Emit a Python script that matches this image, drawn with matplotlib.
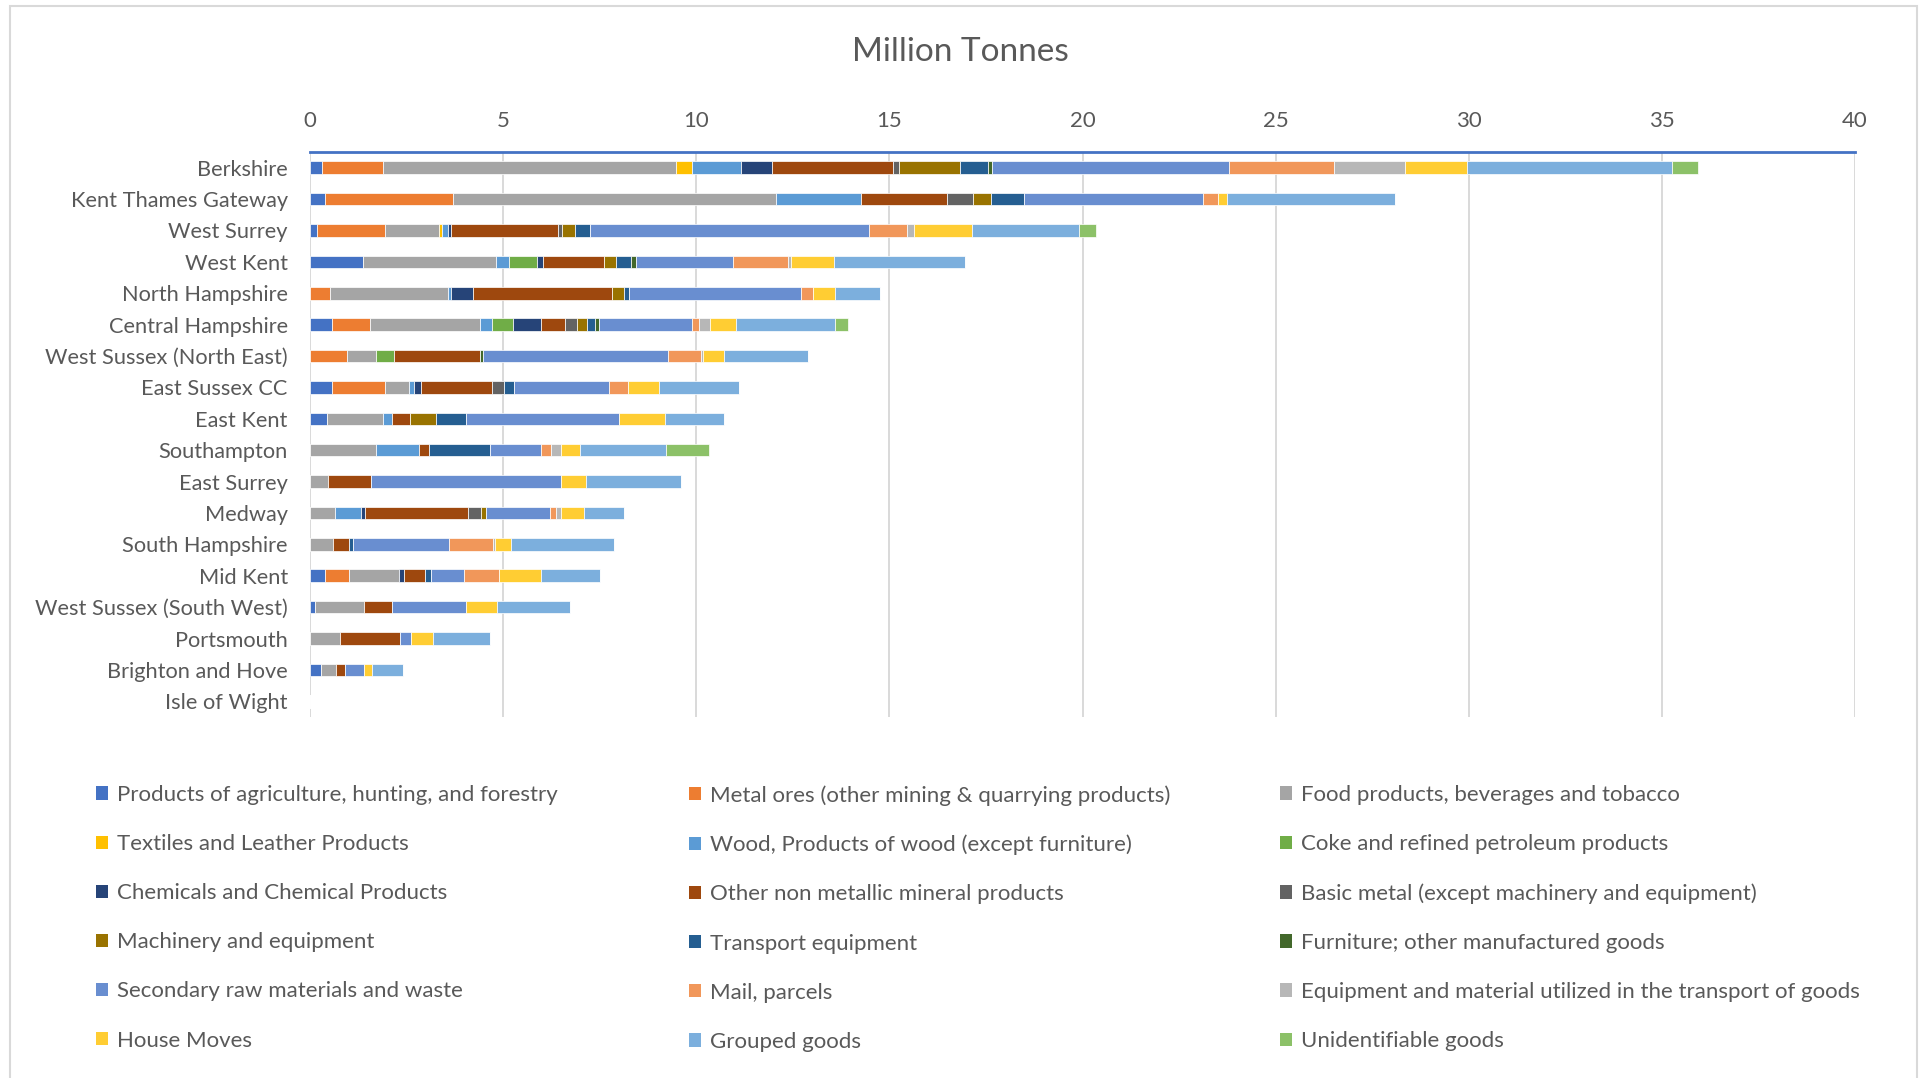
import numpy as np
import matplotlib
matplotlib.use("Agg")
from matplotlib import pyplot as plt
from matplotlib.patches import Patch, Rectangle

plt.rcParams['font.family'] = ['Lato', 'DejaVu Sans']

# Regiones (de arriba hacia abajo)
regiones = ["Berkshire", "Kent Thames Gateway", "West Surrey", "West Kent", "North Hampshire",
            "Central Hampshire", "West Sussex (North East)", "East Sussex CC", "East Kent",
            "Southampton", "East Surrey", "Medway", "South Hampshire", "Mid Kent",
            "West Sussex (South West)", "Portsmouth", "Brighton and Hove", "Isle of Wight"]

# Millones de toneladas por tipo de mercancía, en el orden de las regiones
agricultura = [0.32, 0.39, 0.18, 1.37, 0, 0.58, 0, 0.58, 0.44, 0, 0, 0, 0, 0.39, 0.13, 0, 0.28, 0]
minerales = [1.57, 3.31, 1.75, 0, 0.53, 0.98, 0.97, 1.35, 0, 0, 0, 0, 0, 0.63, 0, 0, 0, 0]
alimentos = [7.59, 8.37, 1.40, 3.44, 3.05, 2.84, 0.74, 0.64, 1.46, 1.70, 0.47, 0.66, 0.60, 1.29, 1.28, 0.78, 0.39, 0]
textiles = [0.42, 0, 0.09, 0, 0, 0, 0, 0, 0, 0, 0, 0, 0, 0, 0, 0, 0, 0]
madera = [1.26, 2.20, 0.15, 0.33, 0.06, 0.32, 0, 0.12, 0.22, 1.12, 0, 0.66, 0, 0, 0, 0, 0, 0]
coque = [0, 0, 0, 0.73, 0, 0.54, 0.47, 0, 0, 0, 0, 0, 0, 0, 0, 0, 0, 0]
quimicos = [0.80, 0, 0.08, 0.17, 0.57, 0.73, 0, 0.19, 0, 0, 0, 0.11, 0, 0.12, 0, 0, 0, 0]
no_metalicos = [3.13, 2.21, 2.77, 1.58, 3.60, 0.62, 2.23, 1.84, 0.48, 0.27, 1.12, 2.65, 0.41, 0.56, 0.72, 1.55, 0.24, 0]
metal_basico = [0.15, 0.69, 0.10, 0, 0, 0.30, 0, 0.31, 0, 0, 0, 0.36, 0, 0, 0, 0, 0, 0]
maquinaria = [1.59, 0.46, 0.34, 0.31, 0.31, 0.27, 0, 0, 0.66, 0, 0, 0.12, 0, 0, 0, 0, 0, 0]
transporte = [0.72, 0.85, 0.39, 0.39, 0.15, 0.21, 0, 0.24, 0.79, 1.58, 0, 0, 0.10, 0.14, 0, 0, 0, 0]
muebles = [0.10, 0, 0, 0.13, 0, 0.08, 0.08, 0, 0, 0, 0, 0, 0, 0, 0, 0, 0, 0]
secundarias = [6.13, 4.65, 7.22, 2.51, 4.45, 2.42, 4.79, 2.48, 3.96, 1.32, 4.91, 1.66, 2.49, 0.86, 1.92, 0.29, 0.48, 0]
correo = [2.73, 0.38, 0.99, 1.41, 0.30, 0.19, 0.85, 0.49, 0, 0.25, 0, 0.16, 1.14, 0.90, 0, 0, 0, 0]
equipo = [1.83, 0, 0.18, 0.09, 0, 0.27, 0.05, 0, 0, 0.26, 0, 0.12, 0.04, 0, 0, 0, 0, 0]
mudanzas = [1.61, 0.22, 1.50, 1.11, 0.58, 0.69, 0.53, 0.80, 1.19, 0.49, 0.65, 0.60, 0.43, 1.10, 0.79, 0.56, 0.21, 0]
agrupados = [5.32, 4.35, 2.78, 3.40, 1.17, 2.54, 2.18, 2.06, 1.51, 2.22, 2.46, 1.03, 2.66, 1.53, 1.89, 1.49, 0.80, 0]
no_identificados = [0.67, 0, 0.42, 0, 0, 0.36, 0, 0, 0, 1.13, 0, 0, 0, 0, 0, 0, 0, 0]

series = [agricultura, minerales, alimentos, textiles, madera, coque, quimicos, no_metalicos,
          metal_basico, maquinaria, transporte, muebles, secundarias, correo, equipo,
          mudanzas, agrupados, no_identificados]

etiquetas = ["Products of agriculture, hunting, and forestry",
             "Metal ores (other mining & quarrying products)",
             "Food products, beverages and tobacco",
             "Textiles and Leather Products",
             "Wood, Products of wood (except furniture)",
             "Coke and refined petroleum products",
             "Chemicals and Chemical Products",
             "Other non metallic mineral products",
             "Basic metal (except machinery and equipment)",
             "Machinery and equipment",
             "Transport equipment",
             "Furniture; other manufactured goods",
             "Secondary raw materials and waste",
             "Mail, parcels",
             "Equipment and material utilized in the transport of goods",
             "House Moves",
             "Grouped goods",
             "Unidentifiable goods"]

colores = ["#4472C4", "#ED7D31", "#A5A5A5", "#FFC000", "#5B9BD5", "#70AD47",
           "#264478", "#9E480E", "#636363", "#997300", "#255E91", "#43682B",
           "#698ED0", "#F1975A", "#B7B7B7", "#FFCD33", "#7CAFDD", "#8CC168"]

gris_texto = "#595959"

fig = plt.figure(figsize=(19.21, 10.78), dpi=100)
ax = fig.add_axes([310 / 1921, 1 - 717 / 1078, 1545 / 1921, 565 / 1078])

# Barras apiladas
y = np.arange(len(regiones))
izquierda = np.zeros(len(regiones))
for valores, color in zip(series, colores):
    valores = np.array(valores)
    ax.barh(y, valores, left=izquierda, height=0.4, color=color,
            edgecolor='white', linewidth=0.5, zorder=3)
    izquierda += valores

ax.set_xlim(0, 40)
ax.set_ylim(len(regiones) - 0.5, -0.5)
ax.xaxis.tick_top()
ax.set_xticks(np.arange(0, 41, 5))
ax.set_yticks(y)
ax.set_yticklabels(regiones)
ax.tick_params(axis='x', length=0, pad=15, labelsize=16, labelcolor=gris_texto)
ax.tick_params(axis='y', length=0, pad=16, labelsize=15.7, labelcolor=gris_texto)
ax.xaxis.grid(True, color='#D9D9D9', linewidth=1.4, zorder=0)
ax.set_axisbelow(True)
for lado in ['left', 'right', 'bottom']:
    ax.spines[lado].set_visible(False)
ax.spines['top'].set_color('#4472C4')
ax.spines['top'].set_linewidth(2)

fig.text(0.5, 1 - 52 / 1078, "Million Tonnes", ha='center', va='center',
         fontsize=24, color=gris_texto)

# Leyenda en tres columnas, ordenada por filas
columnas_x = [96 / 1921, 689 / 1921, 1280 / 1921]
for c in range(3):
    idx = list(range(c, len(etiquetas), 3))
    handles = [Patch(facecolor=colores[i], edgecolor='none') for i in idx]
    fig.legend(handles, [etiquetas[i] for i in idx], loc='upper left',
               bbox_to_anchor=(columnas_x[c], 1 - 785 / 1078), frameon=False,
               fontsize=16, labelcolor=gris_texto, handlelength=0.55, handleheight=0.55,
               handletextpad=0.4, labelspacing=1.31, borderaxespad=0, borderpad=0)

# Marco del área del gráfico
fig.patches.append(Rectangle((10 / 1921, -0.01), 1907 / 1921, 1 - 6 / 1078 + 0.01,
                             transform=fig.transFigure, fill=False,
                             edgecolor='#D9D9D9', linewidth=1.5))

fig.savefig('out.png', dpi=100)
